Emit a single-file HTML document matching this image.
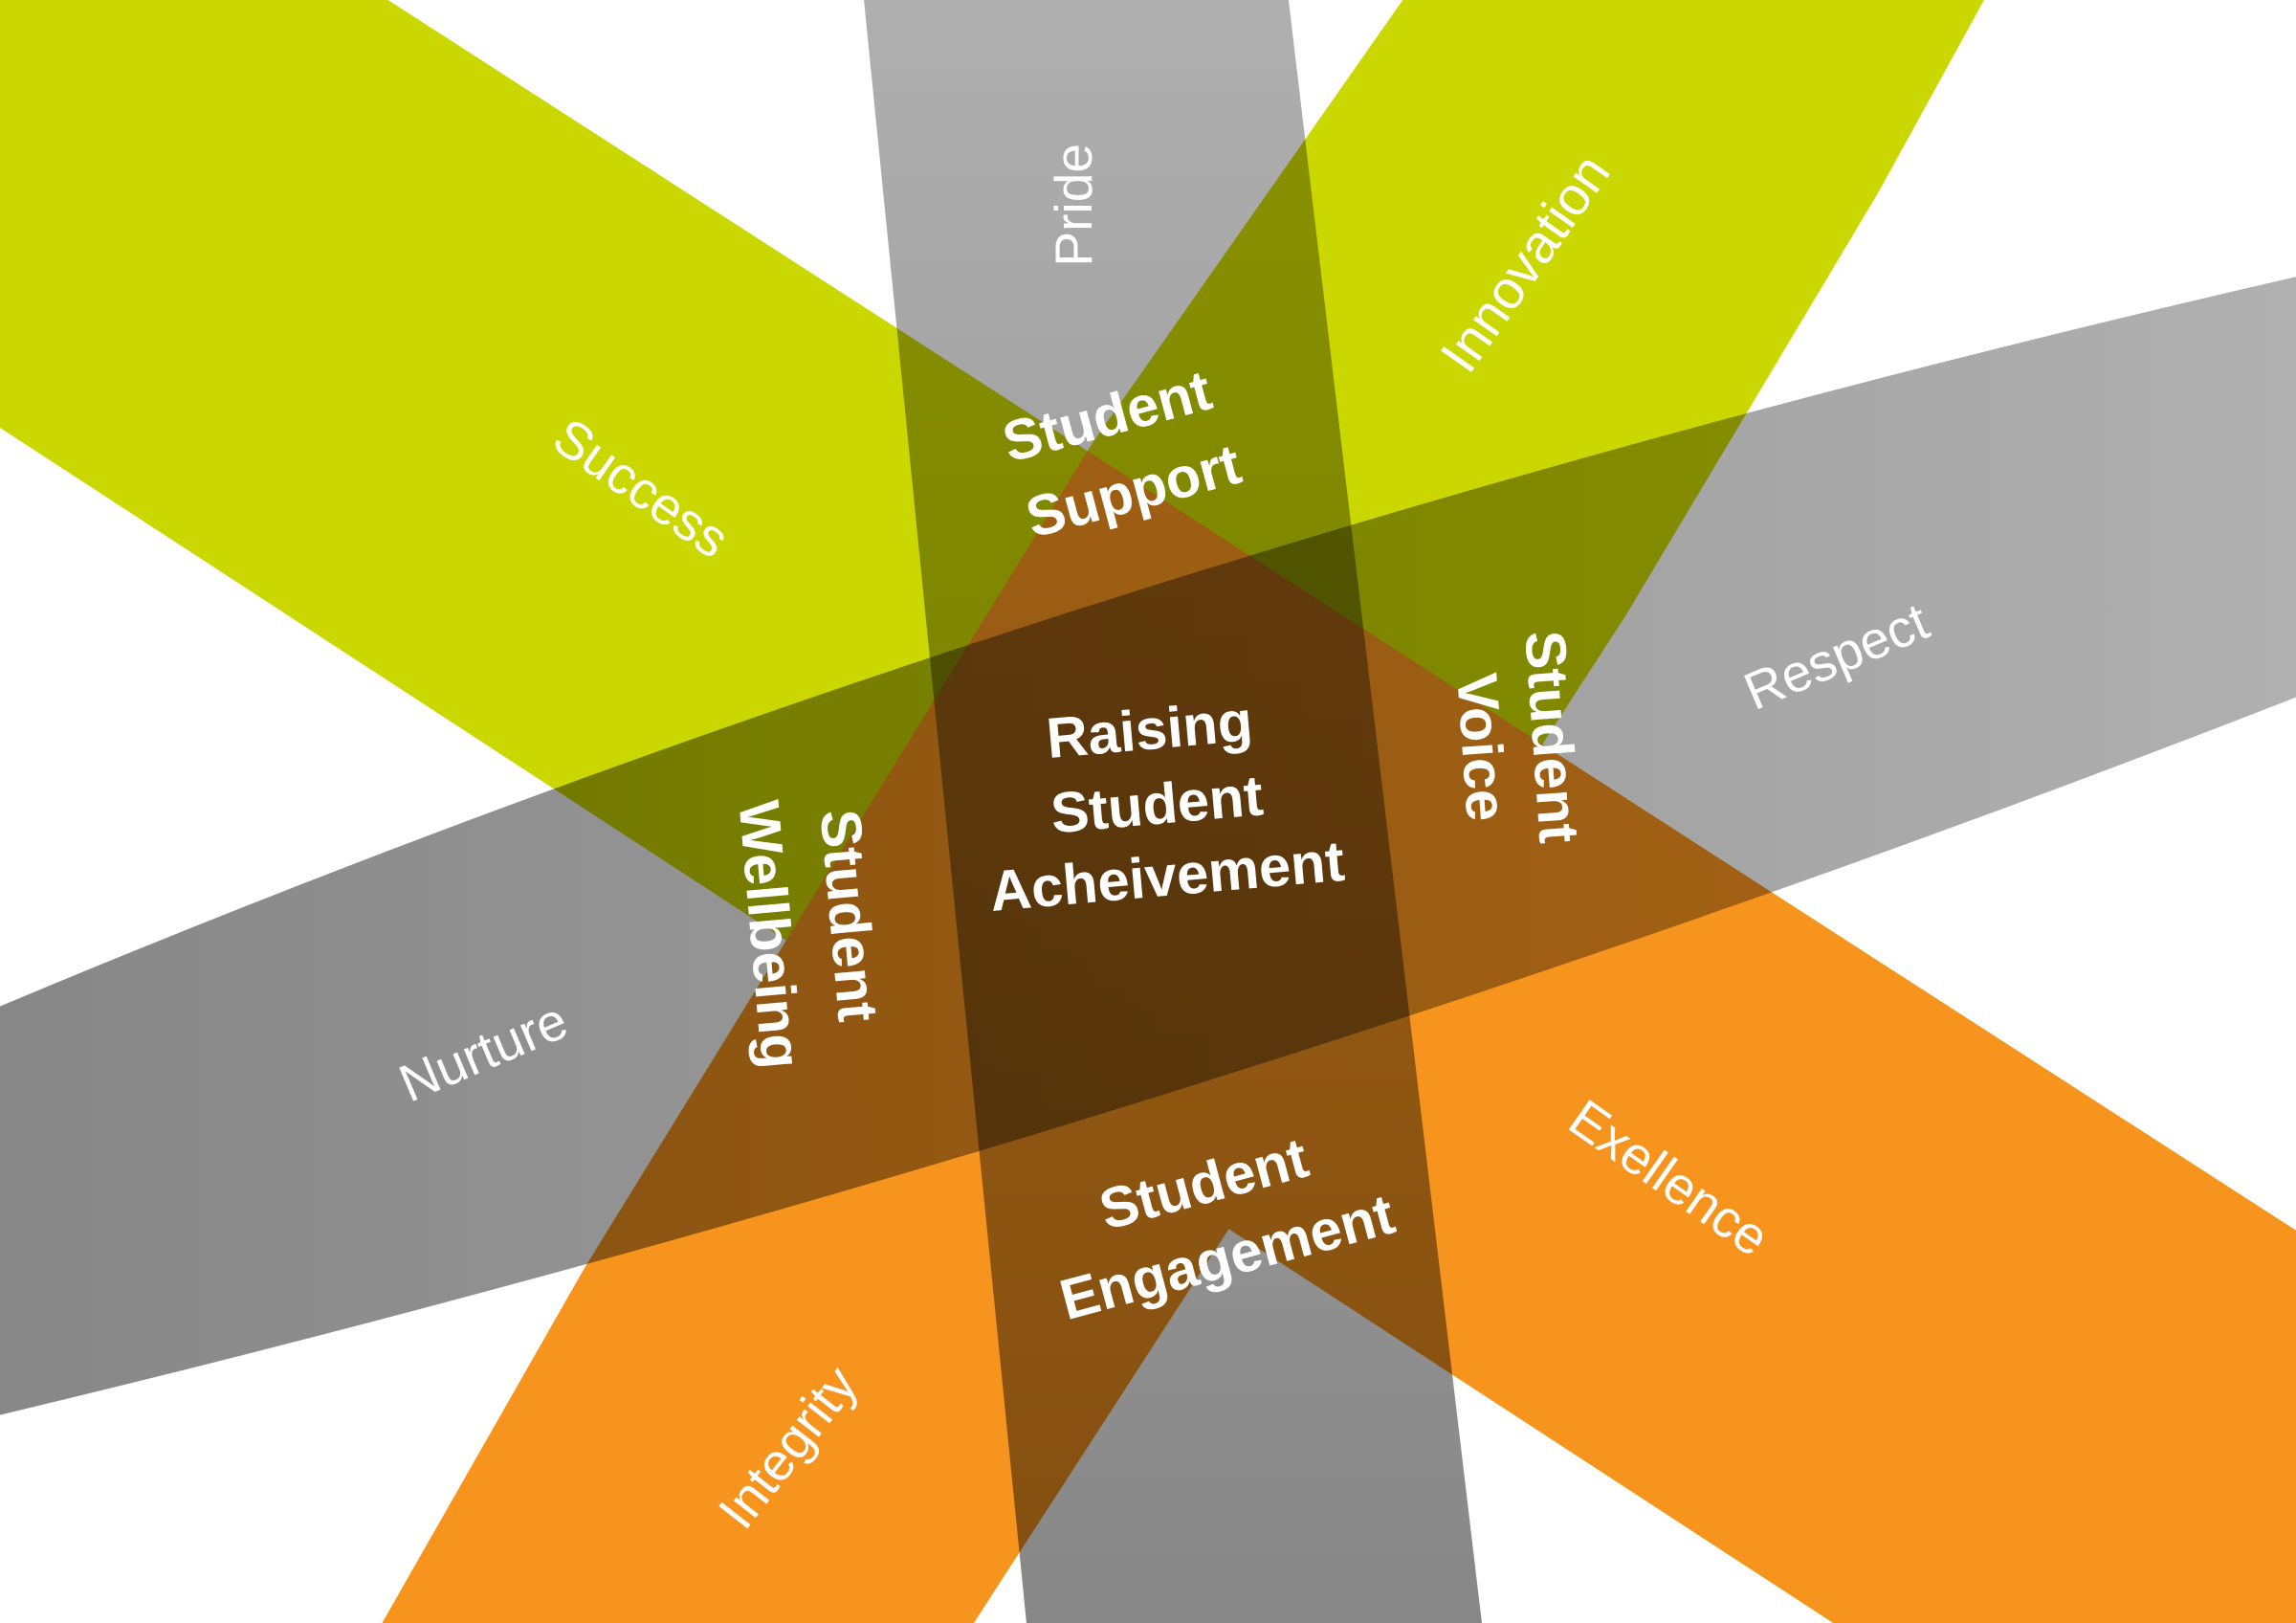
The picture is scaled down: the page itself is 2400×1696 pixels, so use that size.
<!DOCTYPE html>
<html><head><meta charset="utf-8"><style>
html,body{margin:0;padding:0;background:#fff}
svg{display:block}
text{fill:#fff;font-family:"Liberation Sans",sans-serif;text-anchor:middle;dominant-baseline:central}
.b{font-weight:bold}
.gray{mix-blend-mode:multiply}
</style></head><body>
<svg width="2400" height="1696" viewBox="0 0 1568 1108" preserveAspectRatio="none" xmlns="http://www.w3.org/2000/svg">
<defs>
<linearGradient id="gA" x1="0" y1="0" x2="0" y2="1108" gradientUnits="userSpaceOnUse">
<stop offset="0" stop-color="#afafaf"/><stop offset="1" stop-color="#878787"/></linearGradient>
<linearGradient id="gD" x1="0" y1="0" x2="1568" y2="0" gradientUnits="userSpaceOnUse">
<stop offset="0" stop-color="#878787"/><stop offset="1" stop-color="#b0b0b0"/></linearGradient>
<clipPath id="rightOfB"><polygon points="958,0 1568,0 1568,1108 261,1108 399,866 747,301"/></clipPath>
<clipPath id="belowC"><polygon points="0,0 265,0 1568,840 1568,1108 0,1108"/></clipPath>
</defs>
<rect width="1568" height="1108" fill="#fff"/>
<g style="isolation:isolate">
<polygon class="gray" fill="url(#gA)" points="590,0 880,0 1012,1108 701,1108"/>
<path class="gray" fill="url(#gD)" d="M0,687 Q723,383 1568,189 L1568,476 Q810,772 0,966 Z"/>
<g style="mix-blend-mode:multiply">
<polygon fill="#cbd700" points="0,0 265,0 1568,840 1568,1108 1252,1108 0,292"/>
<polygon fill="#cbd700" points="958,0 1355,0 1283,131 1111,419 665,1108 261,1108 399,866 747,301"/>
<polygon fill="#f7941e" clip-path="url(#rightOfB)" points="0,0 265,0 1568,840 1568,1108 1252,1108 0,292"/>
<polygon fill="#f7941e" clip-path="url(#belowC)" points="958,0 1355,0 1283,131 1111,419 665,1108 261,1108 399,866 747,301"/>
</g>
</g>
<text font-size="36" transform="translate(733,140) rotate(-90)">Pride</text>
<text font-size="37" transform="translate(1042,180) rotate(-55)">Innovation</text>
<text font-size="36" transform="translate(438,333) rotate(35)">Success</text>
<text font-size="36" transform="translate(1254,448) rotate(-23)">Respect</text>
<text font-size="36" transform="translate(330,718) rotate(-23)">Nurture</text>
<text font-size="36" transform="translate(1140,804) rotate(35)">Exellence</text>
<text font-size="36" transform="translate(538,988) rotate(-52)">Integrity</text>
<g class="b" font-size="39">
<text transform="translate(756,284) rotate(-15)">Student</text>
<text transform="translate(774,335) rotate(-15)">Support</text>
<text transform="translate(785,498) rotate(-5)">Raising</text>
<text transform="translate(790,549) rotate(-5)">Student</text>
<text transform="translate(797,598) rotate(-5)">Acheivement</text>
<text transform="translate(1060,503) rotate(86)">Student</text>
<text transform="translate(1012,510) rotate(86)">Voice</text>
<text transform="translate(580,625) rotate(85)">Student</text>
<text transform="translate(526,638) rotate(85)">Wellbeing</text>
<text transform="translate(822,808) rotate(-15)">Student</text>
<text transform="translate(838,858) rotate(-15)">Engagement</text>
</g>
</svg>
</body></html>
